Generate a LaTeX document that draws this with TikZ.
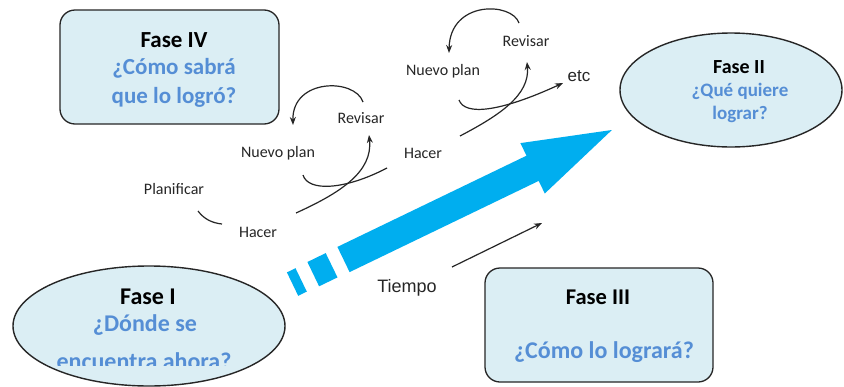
\documentclass[tikz,border=0pt]{standalone}
\usepackage{fontspec}
\setmainfont{Carlito}
\newfontfamily\arialf{Liberation Sans}
\usetikzlibrary{shapes.geometric,arrows.meta}
\definecolor{boxfill}{RGB}{219,238,244}
\definecolor{qblue}{RGB}{85,142,213}
\definecolor{arrowblue}{RGB}{0,174,239}
\definecolor{ink}{RGB}{38,38,38}
\tikzset{
  phasebox/.style={draw=black!85, line width=1.3pt, fill=boxfill, rounded corners=15pt},
  phaseell/.style={ellipse, draw=black!85, line width=1.4pt, fill=boxfill, inner sep=0pt},
  title/.style={font=\bfseries\fontsize{#1}{#1}\selectfont, text=black, inner sep=0pt},
  question/.style 2 args={font=\bfseries\fontsize{#1}{#2}\selectfont, text=qblue, align=center, inner sep=0pt},
  lbl/.style={font=\fontsize{16}{18}\selectfont, text=ink, inner sep=0pt},
  lbla/.style={font=\arialf\fontsize{#1}{#1}\selectfont, text=ink, inner sep=0pt},
  flow/.style={draw=ink, line width=1.2pt},
  flowa/.style={flow, -{Stealth[length=8pt,width=6pt]}},
}
\begin{document}
\begin{tikzpicture}[x=1pt,y=-1pt]
\useasboundingbox (0,0) rectangle (844,386);
\fill[white] (0,0) rectangle (844,386);

% Phase shapes
\node[phasebox, minimum width=219pt, minimum height=114pt] (f4) at (169.5,67) {};
\node[phasebox, minimum width=228pt, minimum height=114pt] (f3) at (599,325) {};
\node[phaseell, minimum width=222pt, minimum height=114pt] (f2) at (731,90) {};
\node[phaseell, minimum width=272pt, minimum height=120pt] (f1) at (149,326) {};

% Phase texts
\node[title=23] (f4t) at (174,40) {Fase IV};
\node[question={23}{29}] (f4q) at (174,83) {¿Cómo sabrá\\que lo logró?};
\node[title=20] (f2t) at (739,67) {Fase II};
\node[question={19}{23}] (f2q) at (740,103) {¿Qué quiere\\lograr?};
\node[title=24] (f1t) at (148,297) {Fase I};
\node[question={24}{24}] (f1q) at (145,325) {¿Dónde se};
\begin{scope}
  \clip (0,0) rectangle (844,365);
  \node[question={24}{24}, anchor=base] (f1q2) at (144,369) {encuentra ahora?};
\end{scope}
\node[title=22.5] (f3t) at (598,297) {Fase III};
\node[question={24}{24}] (f3q) at (604,352) {¿Cómo lo logrará?};

% Big blue arrow (time)
\fill[arrowblue] (337.4,246.9) -- (526.5,155.7) -- (520.4,143.1) -- (611.9,130)
  -- (544.8,193.5) -- (538.7,180.9) -- (349.6,272.1) -- cycle;
\fill[arrowblue] (307.4,262.0) -- (325.7,253.1) -- (337.5,277.4) -- (319.1,286.3) -- cycle;
\fill[arrowblue] (286.9,272.4) -- (295.5,268.2) -- (306.8,291.6) -- (298.2,295.8) -- cycle;

% Labels
\node[lbl] (plan) at (174,189) {Planificar};
\node[lbl] (hac1) at (258,232) {Hacer};
\node[lbl] (np1) at (278,153) {Nuevo plan};
\node[lbl] (rev1) at (361,118) {Revisar};
\node[lbl] (hac2) at (423,153) {Hacer};
\node[lbl] (np2) at (443,71) {Nuevo plan};
\node[lbl] (rev2) at (526,41) {Revisar};
\node[lbla=17] (etc) at (579,76) {etc};
\node[lbla=18] (tiempo) at (407,288) {Tiempo};

% Curve end points
\coordinate (pa) at (198,211);
\coordinate (pb) at (222,224);
\coordinate (a1s) at (296,213);
\coordinate (a1e) at (369,135);
\coordinate (t1s) at (363,102);
\coordinate (t1e) at (293,125);
\coordinate (b1s) at (303,175);
\coordinate (b1e) at (387,168);
\coordinate (a2s) at (460,136);
\coordinate (a2e) at (527,62);
\coordinate (t2s) at (519,23);
\coordinate (t2e) at (449,53);
\coordinate (b2s) at (459,100);
\coordinate (b2e) at (563,83);
\coordinate (ts) at (452,267);
\coordinate (te) at (542,223);

% Cycle curves
\draw[flow] (pa) .. controls (204,219) and (212,223) .. (pb);
\draw[flowa] (a1s) .. controls (340,193) and (373,172) .. (a1e);
\draw[flowa] (t1s) .. controls (355,78) and (292,78) .. (t1e);
\draw[flow] (b1s) .. controls (308,192) and (345,190) .. (b1e);
\draw[flowa] (a2s) .. controls (500,115) and (530,95) .. (a2e);
\draw[flowa] (t2s) .. controls (512,2) and (450,0) .. (t2e);
\draw[flowa] (b2s) .. controls (465,116) and (500,112) .. (b2e);
\draw[flowa] (ts) -- (te);
\end{tikzpicture}
\end{document}
